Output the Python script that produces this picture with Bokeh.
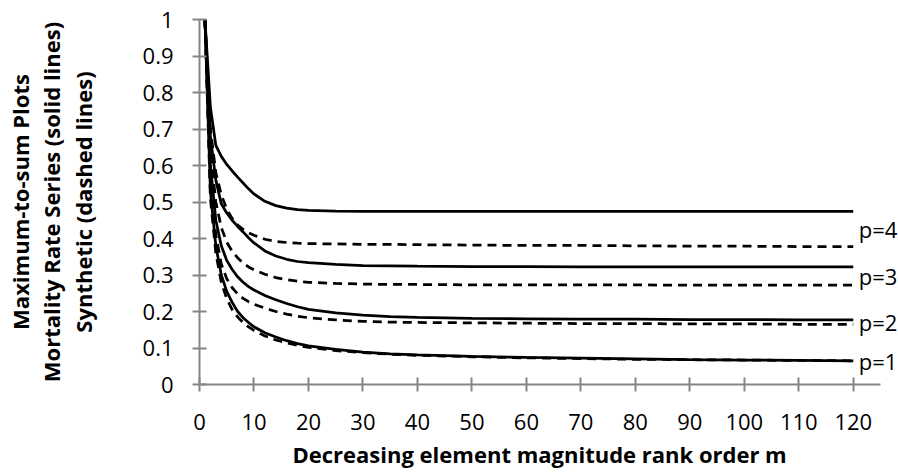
from bokeh.plotting import figure
from bokeh.models import Label, FixedTicker, Range1d, Title
from bokeh.embed import file_html
from bokeh.resources import INLINE

# rank order m
m_vals = [1, 2, 3, 4, 5, 6, 7, 8, 9, 10, 12, 14, 16, 18, 20, 25, 30, 35, 40,
          50, 60, 70, 80, 90, 100, 110, 120]

# Mortality rate series (solid lines)
solid_p1 = [1.0, 0.53, 0.38, 0.30, 0.255, 0.225, 0.200, 0.183, 0.170, 0.158, 0.142,
            0.130, 0.120, 0.112, 0.106, 0.096, 0.089, 0.084, 0.081, 0.077, 0.074,
            0.072, 0.070, 0.068, 0.067, 0.066, 0.065]
solid_p2 = [1.0, 0.60, 0.45, 0.38, 0.340, 0.315, 0.295, 0.280, 0.268, 0.259, 0.244,
            0.232, 0.222, 0.213, 0.206, 0.196, 0.190, 0.186, 0.184, 0.181, 0.180,
            0.179, 0.179, 0.178, 0.178, 0.177, 0.177]
solid_p3 = [1.0, 0.68, 0.56, 0.495, 0.470, 0.450, 0.433, 0.418, 0.402, 0.388, 0.366,
            0.352, 0.343, 0.337, 0.334, 0.329, 0.326, 0.325, 0.324, 0.323, 0.323,
            0.322, 0.322, 0.322, 0.322, 0.322, 0.322]
solid_p4 = [1.0, 0.76, 0.655, 0.625, 0.603, 0.585, 0.568, 0.552, 0.536, 0.522, 0.502,
            0.490, 0.483, 0.479, 0.477, 0.475, 0.474, 0.474, 0.474, 0.474, 0.474,
            0.474, 0.474, 0.474, 0.474, 0.474, 0.474]

# Synthetic series (dashed lines)
dashed_p1 = [1.0, 0.51, 0.36, 0.28, 0.235, 0.205, 0.185, 0.170, 0.158, 0.148, 0.133,
             0.122, 0.114, 0.107, 0.102, 0.093, 0.087, 0.083, 0.080, 0.076, 0.073,
             0.071, 0.069, 0.068, 0.067, 0.066, 0.065]
dashed_p2 = [1.0, 0.56, 0.41, 0.33, 0.290, 0.265, 0.248, 0.236, 0.227, 0.220, 0.209,
             0.200, 0.193, 0.187, 0.183, 0.177, 0.173, 0.171, 0.170, 0.169, 0.168,
             0.167, 0.167, 0.166, 0.166, 0.165, 0.165]
dashed_p3 = [1.0, 0.64, 0.50, 0.43, 0.390, 0.365, 0.347, 0.333, 0.322, 0.314, 0.302,
             0.293, 0.287, 0.283, 0.280, 0.277, 0.275, 0.274, 0.274, 0.273, 0.273,
             0.273, 0.273, 0.272, 0.272, 0.272, 0.272]
dashed_p4 = [1.0, 0.70, 0.58, 0.52, 0.480, 0.455, 0.437, 0.425, 0.416, 0.409, 0.398,
             0.392, 0.389, 0.387, 0.386, 0.385, 0.384, 0.384, 0.383, 0.382, 0.381,
             0.381, 0.380, 0.379, 0.379, 0.378, 0.378]

series_labels = ["p=1", "p=2", "p=3", "p=4"]

x_ticks = [0, 10, 20, 30, 40, 50, 60, 70, 80, 90, 100, 110, 120]
x_tick_labels = [str(t) for t in x_ticks]
x_axis_max = 125
y_ticks = [0, 0.1, 0.2, 0.3, 0.4, 0.5, 0.6, 0.7, 0.8, 0.9, 1.0]
y_tick_labels = ["0", "0.1", "0.2", "0.3", "0.4", "0.5", "0.6", "0.7", "0.8", "0.9", "1"]

x_title = "Decreasing element magnitude rank order m"
y_title_lines = ["Maximum-to-sum Plots", "Mortality Rate Series (solid lines)",
                 "Synthetic (dashed lines)"]

FONT = "Open Sans"
AXIS_COLOR = "#868686"

W, H = 898, 472
LEFT, TOP, BOTTOM = 199, 19, 88
AXIS_PX = 681  # pixel length of the 0..125 axis
x_end = x_axis_max * (W - LEFT) / AXIS_PX

p = figure(width=W, height=H, output_backend="svg", toolbar_location=None,
           x_range=Range1d(0, x_end), y_range=Range1d(0, 1),
           min_border_left=LEFT, min_border_right=0, min_border_top=TOP,
           min_border_bottom=BOTTOM)
p.outline_line_color = None
p.grid.visible = False
p.background_fill_color = "white"
p.border_fill_color = "white"

for ax, ticks, labels in ((p.xaxis, x_ticks, x_tick_labels), (p.yaxis, y_ticks, y_tick_labels)):
    ax.ticker = FixedTicker(ticks=ticks)
    ax.major_label_overrides = {t: l for t, l in zip(ticks, labels)}
    ax.axis_line_color = AXIS_COLOR
    ax.axis_line_width = 2
    ax.major_tick_line_color = AXIS_COLOR
    ax.major_tick_line_width = 2
    ax.major_tick_in = 7
    ax.major_tick_out = 7
    ax.minor_tick_line_color = None
    ax.major_label_text_font = FONT
    ax.major_label_text_font_size = "22px"
    ax.major_label_text_color = "black"

p.xaxis.bounds = (0, x_axis_max)
p.yaxis.major_label_standoff = 19
p.xaxis.major_label_standoff = 22

# multi-line y title as axis label
p.yaxis.axis_label = "\n".join(y_title_lines)
p.yaxis.axis_label_text_font = FONT
p.yaxis.axis_label_text_font_size = "22px"
p.yaxis.axis_label_text_font_style = "bold"
p.yaxis.axis_label_text_color = "black"
p.yaxis.axis_label_text_line_height = 1.05
p.yaxis.axis_label_standoff = 42

solids = [solid_p1, solid_p2, solid_p3, solid_p4]
dashes = [dashed_p1, dashed_p2, dashed_p3, dashed_p4]
for s, d, lab in zip(solids, dashes, series_labels):
    p.line(m_vals, d, line_color="black", line_width=2.75, line_dash="9 6")
    p.line(m_vals, s, line_color="black", line_width=2.75)
    p.add_layout(Label(x=121, y=(s[-1] + d[-1]) / 2, text=lab, text_font=FONT,
                       text_font_size="22px", text_align="left",
                       text_baseline="middle", text_color="black"))

# x title below the axis
p.add_layout(Title(text=x_title, align="left", offset=93, vertical_align="bottom",
                   text_font=FONT, text_font_size="22px", text_font_style="bold",
                   text_color="black", standoff=8), "below")

open("out.html", "w").write(file_html(p, INLINE))
